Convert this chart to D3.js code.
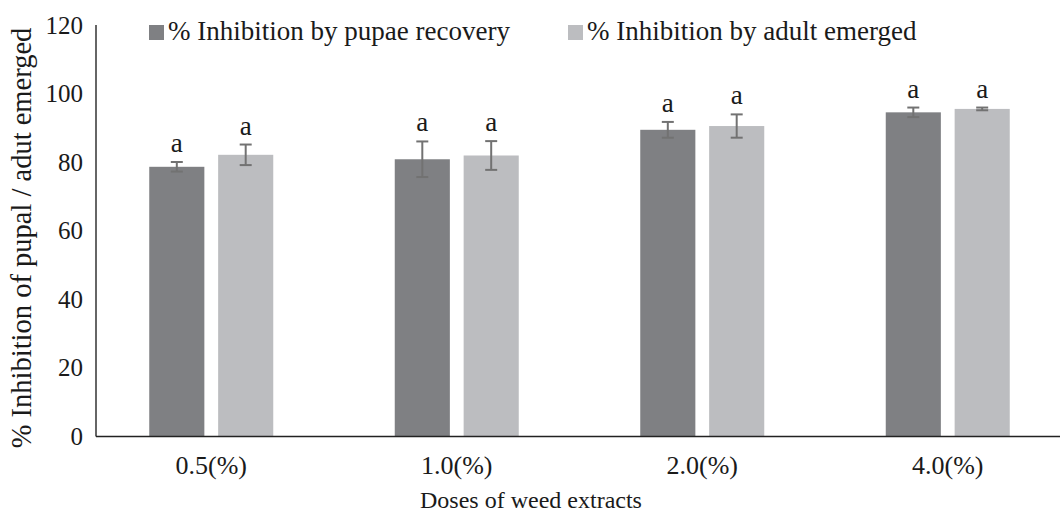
<!DOCTYPE html>
<html>
<head>
<meta charset="utf-8">
<script src="https://cdn.jsdelivr.net/npm/d3@7"></script>
<style>
  body { margin: 0; background: #fff; }
</style>
</head>
<body>
<svg id="chart" width="1060" height="513"></svg>
<script>
var doses = ['0.5(%)', '1.0(%)', '2.0(%)', '4.0(%)'];
var seriesNames = ['% Inhibition by pupae recovery', '% Inhibition by adult emerged'];
var pupaeValues = [78.6, 80.8, 89.4, 94.5];
var pupaeErrors = [1.4, 5.2, 2.3, 1.4];
var adultValues = [82.1, 81.9, 90.5, 95.5];
var adultErrors = [3.0, 4.2, 3.4, 0.4];
var letters = ['a', 'a', 'a', 'a'];
var yTicks = [0, 20, 40, 60, 80, 100, 120];
var colors = ['#7f8083', '#bcbdc0'];

var FONT = '"Liberation Serif", "Times New Roman", serif';
var svg = d3.select('#chart');

function txt(sel, size) {
  return sel.attr('font-family', FONT).attr('font-size', size).attr('fill', '#1a1a1a');
}

var rows = doses.map(function (d, i) {
  return [
    { dose: d, s: 0, v: pupaeValues[i], e: pupaeErrors[i], l: letters[i] },
    { dose: d, s: 1, v: adultValues[i], e: adultErrors[i], l: letters[i] }
  ];
});

var x0 = d3.scaleBand().domain(doses).range([88.5, 1070.5]);
var x1 = d3.scaleBand().domain([0, 1]).range([-62, 62]).paddingInner(0.2);
var y = d3.scaleLinear().domain([0, 120]).range([436, 25]);

// y axis labels (no ticks)
var yAxis = svg.append('g')
  .attr('transform', 'translate(96,0)')
  .call(d3.axisLeft(y).tickValues(yTicks).tickSize(0).tickPadding(13));
yAxis.select('.domain').remove();
yAxis.attr('font-family', null).attr('font-size', null);
txt(yAxis.selectAll('text'), 25);

// bars
var groups = svg.append('g').selectAll('g')
  .data(rows)
  .join('g')
  .attr('transform', function (d, i) { return 'translate(' + (x0(doses[i]) + x0.bandwidth() / 2) + ',0)'; });

groups.selectAll('rect')
  .data(function (d) { return d; })
  .join('rect')
  .attr('x', function (d) { return x1(d.s); })
  .attr('width', x1.bandwidth())
  .attr('y', function (d) { return y(d.v); })
  .attr('height', function (d) { return y(0) - y(d.v); })
  .attr('fill', function (d) { return colors[d.s]; });

// error bars
var eb = groups.selectAll('g.err')
  .data(function (d) { return d; })
  .join('g')
  .attr('class', 'err')
  .attr('stroke', '#727272')
  .attr('stroke-width', 2);
eb.append('line')
  .attr('x1', function (d) { return x1(d.s) + x1.bandwidth() / 2; })
  .attr('x2', function (d) { return x1(d.s) + x1.bandwidth() / 2; })
  .attr('y1', function (d) { return y(d.v + d.e); })
  .attr('y2', function (d) { return y(d.v - d.e); });
[1, -1].forEach(function (k) {
  eb.append('line')
    .attr('x1', function (d) { return x1(d.s) + x1.bandwidth() / 2 - 6; })
    .attr('x2', function (d) { return x1(d.s) + x1.bandwidth() / 2 + 6; })
    .attr('y1', function (d) { return y(d.v + k * d.e); })
    .attr('y2', function (d) { return y(d.v + k * d.e); });
});

// significance letters
txt(groups.selectAll('text.sig')
  .data(function (d) { return d; })
  .join('text')
  .attr('class', 'sig')
  .attr('x', function (d) { return x1(d.s) + x1.bandwidth() / 2; })
  .attr('y', function (d) { return y(d.v + d.e) - 10; })
  .attr('text-anchor', 'middle')
  .text(function (d) { return d.l; }), 27);

// axis lines
svg.append('line').attr('x1', 96).attr('x2', 96).attr('y1', y(120)).attr('y2', 436.5)
  .attr('stroke', '#333').attr('stroke-width', 1.5);
svg.append('line').attr('x1', 96).attr('x2', 1060).attr('y1', 436.5).attr('y2', 436.5)
  .attr('stroke', '#222').attr('stroke-width', 1.5);

// x axis labels
txt(svg.append('g').selectAll('text')
  .data(doses)
  .join('text')
  .attr('x', function (d) { return x0(d) + x0.bandwidth() / 2; })
  .attr('y', 474)
  .attr('text-anchor', 'middle')
  .text(function (d) { return d; }), 26);

// axis titles
txt(svg.append('text')
  .attr('x', 531).attr('y', 508)
  .attr('text-anchor', 'middle')
  .text('Doses of weed extracts'), 24);
txt(svg.append('text')
  .attr('transform', 'translate(31,238) rotate(-90)')
  .attr('text-anchor', 'middle')
  .text('% Inhibition of pupal / adut emerged'), 28.5);

// legend
var legendX = [149, 568];
var legend = svg.append('g').selectAll('g')
  .data(seriesNames)
  .join('g')
  .attr('transform', function (d, i) { return 'translate(' + legendX[i] + ',25)'; });
legend.append('rect').attr('width', 15).attr('height', 15).attr('fill', function (d, i) { return colors[i]; });
txt(legend.append('text').attr('x', 19).attr('y', 15).text(function (d) { return d; }), 27);
</script>
</body>
</html>
